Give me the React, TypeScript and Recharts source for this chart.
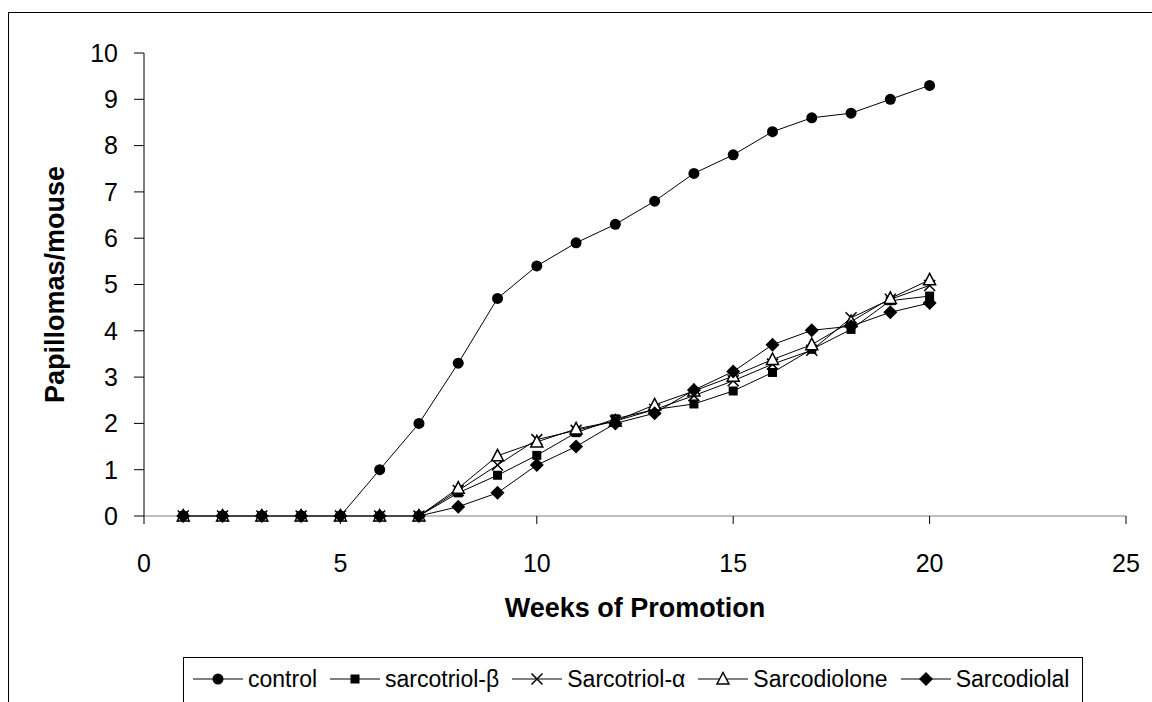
import React from "react";
import { Line, LineChart, XAxis, YAxis } from "recharts";

const weeks = [1, 2, 3, 4, 5, 6, 7, 8, 9, 10, 11, 12, 13, 14, 15, 16, 17, 18, 19, 20];
const control = [0, 0, 0, 0, 0, 1.0, 2.0, 3.3, 4.7, 5.4, 5.9, 6.3, 6.8, 7.4, 7.8, 8.3, 8.6, 8.7, 9.0, 9.3];
const sarcotriolBeta = [0, 0, 0, 0, 0, 0, 0, 0.5, 0.88, 1.31, 1.8, 2.1, 2.3, 2.42, 2.7, 3.1, 3.6, 4.03, 4.65, 4.75];
const sarcotriolAlpha = [0, 0, 0, 0, 0, 0, 0, 0.55, 1.1, 1.65, 1.85, 2.05, 2.3, 2.6, 2.92, 3.28, 3.58, 4.28, 4.68, 4.98];
const sarcodiolone = [0, 0, 0, 0, 0, 0, 0, 0.6, 1.3, 1.6, 1.88, 2.05, 2.4, 2.7, 3.02, 3.38, 3.7, 4.2, 4.7, 5.1];
const sarcodiolal = [0, 0, 0, 0, 0, 0, 0, 0.2, 0.5, 1.1, 1.5, 2.0, 2.22, 2.72, 3.12, 3.7, 4.01, 4.1, 4.4, 4.6];

const xTicks = [0, 5, 10, 15, 20, 25];
const yTicks = [0, 1, 2, 3, 4, 5, 6, 7, 8, 9, 10];

const series = [
  { key: "control", name: "control", marker: "circle" },
  { key: "beta", name: "sarcotriol-β", marker: "square" },
  { key: "alpha", name: "Sarcotriol-α", marker: "cross" },
  { key: "one", name: "Sarcodiolone", marker: "triangle" },
  { key: "al", name: "Sarcodiolal", marker: "diamond" },
];

const data = weeks.map((w, i) => ({
  week: w,
  control: control[i],
  beta: sarcotriolBeta[i],
  alpha: sarcotriolAlpha[i],
  one: sarcodiolone[i],
  al: sarcodiolal[i],
}));

const FONT = "'Liberation Sans', Arial, sans-serif";

function Marker({ kind, cx, cy }: { kind: string; cx: number; cy: number }) {
  if (kind === "circle") return <circle cx={cx} cy={cy} r={5.5} fill="#000" />;
  if (kind === "square")
    return <rect x={cx - 4.5} y={cy - 4.5} width={9} height={9} fill="#000" />;
  if (kind === "cross")
    return (
      <path
        d={`M${cx - 5.5},${cy - 5.5}L${cx + 5.5},${cy + 5.5}M${cx + 5.5},${cy - 5.5}L${cx - 5.5},${cy + 5.5}`}
        stroke="#000"
        strokeWidth={1.5}
      />
    );
  if (kind === "triangle")
    return (
      <path
        d={`M${cx},${cy - 6.5}L${cx + 6},${cy + 5}L${cx - 6},${cy + 5}Z`}
        fill="#fff"
        stroke="#000"
        strokeWidth={1.5}
      />
    );
  return (
    <path
      d={`M${cx},${cy - 7}L${cx + 7},${cy}L${cx},${cy + 7}L${cx - 7},${cy}Z`}
      fill="#000"
    />
  );
}

function LegendIcon({ kind }: { kind: string }) {
  return (
    <svg width={50} height={20} style={{ display: "block" }}>
      <line x1={0} y1={10} x2={50} y2={10} stroke="#000" strokeWidth={1} />
      <Marker kind={kind} cx={25} cy={10} />
    </svg>
  );
}

export default function App() {
  return (
    <div
      style={{
        position: "fixed",
        left: 8,
        top: 12,
        width: 1170,
        height: 720,
        borderTop: "1px solid #000",
        borderLeft: "1px solid #000",
        background: "#fff",
        fontFamily: FONT,
      }}
    >
      <LineChart
        width={1143}
        height={689}
        data={data}
        margin={{ top: 40, right: 26, bottom: 86, left: 0 }}
      >
        <XAxis
          dataKey="week"
          type="number"
          domain={[0, 25]}
          ticks={xTicks}
          height={100}
          tickSize={8}
          tickMargin={30}
          axisLine={{ stroke: "#808080" }}
          tickLine={{ stroke: "#000" }}
          tick={{ fill: "#000", fontSize: 25, fontFamily: FONT }}
          label={{
            content: (p: any) => {
              const vb = p.viewBox;
              return (
                <text
                  x={vb.x + vb.width / 2}
                  y={vb.y + 101}
                  textAnchor="middle"
                  fontSize={27}
                  fontWeight="bold"
                  fontFamily={FONT}
                  fill="#000"
                >
                  Weeks of Promotion
                </text>
              );
            },
          }}
        />
        <YAxis
          domain={[0, 10]}
          ticks={yTicks}
          interval={0}
          width={135}
          tickSize={10}
          tickMargin={16}
          axisLine={{ stroke: "#000" }}
          tickLine={{ stroke: "#000" }}
          tick={{ fill: "#000", fontSize: 25, fontFamily: FONT }}
          label={{
            content: (p: any) => {
              const vb = p.viewBox;
              const x = vb.x + 46;
              const y = vb.y + vb.height / 2;
              return (
                <text
                  x={x}
                  y={y}
                  transform={`rotate(-90, ${x}, ${y})`}
                  textAnchor="middle"
                  dominantBaseline="central"
                  fontSize={27}
                  fontWeight="bold"
                  fontFamily={FONT}
                  fill="#000"
                >
                  Papillomas/mouse
                </text>
              );
            },
          }}
        />
        {series.map((s) => (
          <Line
            key={s.key}
            dataKey={s.key}
            name={s.name}
            type="linear"
            stroke="#000"
            strokeWidth={1}
            isAnimationActive={false}
            dot={(p: any) => (
              <Marker key={`${s.key}-${p.index}`} kind={s.marker} cx={p.cx} cy={p.cy} />
            )}
            activeDot={false}
          />
        ))}
      </LineChart>
      <div
        style={{
          position: "absolute",
          left: 174,
          top: 644,
          width: 900,
          height: 60,
          border: "1px solid #000",
          display: "flex",
          alignItems: "flex-start",
          paddingLeft: 9,
          paddingTop: 9,
          boxSizing: "border-box",
          fontSize: 23,
          color: "#000",
          gap: 13,
        }}
      >
        {series.map((s) => (
          <div key={s.key} style={{ display: "flex", alignItems: "center" }}>
            <LegendIcon kind={s.marker} />
            <span style={{ marginLeft: 5, lineHeight: "24px" }}>{s.name}</span>
          </div>
        ))}
      </div>
    </div>
  );
}
